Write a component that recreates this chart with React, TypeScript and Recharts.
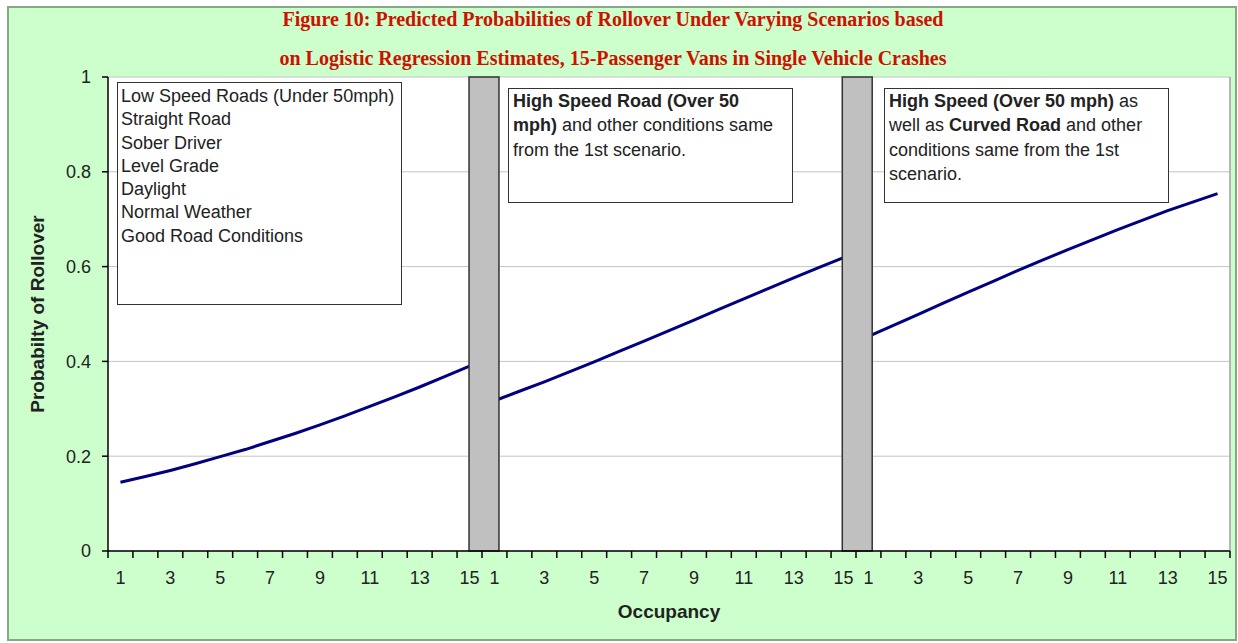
import React from 'react';
import { LineChart, Line, XAxis, YAxis, CartesianGrid, ReferenceArea, ReferenceLine } from 'recharts';

// Occupancy categories (repeated for each scenario)
const occupancy = [1, 2, 3, 4, 5, 6, 7, 8, 9, 10, 11, 12, 13, 14, 15];
const labelledOccupancy = [1, 3, 5, 7, 9, 11, 13, 15];

// Scenario 1: low speed roads, straight road, etc.
const scenarioLowSpeed = [0.145, 0.157, 0.170, 0.184, 0.199, 0.214, 0.231, 0.248, 0.266, 0.285, 0.305, 0.325, 0.346, 0.368, 0.390];
// Scenario 2: high speed road
const scenarioHighSpeed = [0.317, 0.337, 0.357, 0.378, 0.399, 0.421, 0.443, 0.465, 0.487, 0.510, 0.532, 0.554, 0.576, 0.598, 0.619];
// Scenario 3: high speed + curved road
const scenarioHighCurved = [0.453, 0.476, 0.499, 0.523, 0.546, 0.569, 0.592, 0.614, 0.636, 0.657, 0.678, 0.698, 0.718, 0.736, 0.754];

const yTicks = [0, 0.2, 0.4, 0.6, 0.8, 1];

const scenarios = [scenarioLowSpeed, scenarioHighSpeed, scenarioHighCurved];
const seriesKeys = ['s1', 's2', 's3'];

const data = scenarios.flatMap((vals, g) =>
  occupancy.map((occ, i) => {
    const row: any = { pos: g * 15 + i + 0.5, occ };
    seriesKeys.forEach((k, j) => {
      row[k] = j === g ? vals[i] : null;
    });
    return row;
  })
);

const boundaryTicks = Array.from({ length: 46 }, (_, i) => i);
const labelTicks = scenarios.flatMap((_, g) => labelledOccupancy.map((o) => g * 15 + (o - 1) + 0.5));
const xTicks = [...boundaryTicks, ...labelTicks].sort((a, b) => a - b);

// gray separators between scenarios (in category units)
const separators = [
  [14.48, 15.68],
  [29.45, 30.65],
];

const FONT = '"Liberation Sans", Arial, sans-serif';

const XTick = (props: any) => {
  const { x, y, payload } = props;
  const v = payload.value;
  if (Number.isInteger(v)) {
    return <line x1={x} x2={x} y1={y} y2={y + 7} stroke="#000" strokeWidth={1.5} />;
  }
  const occ = occupancy[Math.floor(v) % 15];
  return (
    <text x={x} y={y + 33} textAnchor="middle" fontSize={18} fill="#222" fontFamily={FONT}>
      {occ}
    </text>
  );
};

const boxStyle: React.CSSProperties = {
  position: 'absolute',
  background: '#fff',
  border: '1.5px solid #333',
  boxSizing: 'border-box',
  fontFamily: FONT,
  fontSize: 18,
  color: '#222',
  whiteSpace: 'nowrap',
};

export default function App() {
  return (
    <div style={{ position: 'absolute', left: 0, top: 0, width: 1238, height: 643, background: '#fff', overflow: 'hidden' }}>
      <div
        style={{
          position: 'absolute',
          left: 7,
          top: 6,
          width: 1230,
          height: 635,
          background: '#CCFFCC',
          border: '2px solid #86a886',
          boxSizing: 'border-box',
        }}
      />
      <div
        style={{
          position: 'absolute',
          left: 0,
          top: 0,
          width: 1238,
          height: 643,
        }}
      >
        <LineChart width={1238} height={643} data={data} margin={{ top: 77, right: 8, bottom: 52, left: 0 }}>
          <CartesianGrid vertical={false} stroke="#C4C4C4" fill="#ffffff" />
          <XAxis
            dataKey="pos"
            type="number"
            domain={[0, 45]}
            ticks={xTicks}
            interval={0}
            tick={<XTick />}
            tickLine={false}
            tickSize={0}
            tickMargin={0}
            height={40}
            axisLine={{ stroke: '#000', strokeWidth: 1.5 }}
          />
          <YAxis
            type="number"
            domain={[0, 1]}
            ticks={yTicks}
            interval={0}
            width={108}
            tickSize={6}
            tickMargin={11}
            tick={{ fontSize: 18, fill: '#222', fontFamily: FONT }}
            tickLine={{ stroke: '#000', strokeWidth: 1.5 }}
            axisLine={{ stroke: '#000', strokeWidth: 1.5 }}
          />
          <ReferenceLine x={45} stroke="#a0a0a0" strokeWidth={1.5} />
          {seriesKeys.map((k) => (
            <Line
              key={k}
              type="linear"
              dataKey={k}
              stroke="#000080"
              strokeWidth={3}
              dot={false}
              activeDot={false}
              connectNulls={false}
              isAnimationActive={false}
            />
          ))}
          {separators.map(([a, b], i) => (
            <ReferenceArea
              key={i}
              x1={a}
              x2={b}
              y1={0}
              y2={1}
              fill="#C0C0C0"
              fillOpacity={1}
              stroke="#333"
              strokeWidth={1.5}
              zIndex={450}
            />
          ))}
        </LineChart>
      </div>

      {/* Title */}
      <div
        style={{
          position: 'absolute',
          left: 0,
          width: 1226,
          top: 0,
          textAlign: 'center',
          fontFamily: '"Liberation Serif", "Times New Roman", serif',
          fontWeight: 'bold',
          fontSize: 20,
          lineHeight: '39px',
          color: '#CC1100',
        }}
      >
        Figure 10: Predicted Probabilities of Rollover Under Varying Scenarios based
        <br />
        on Logistic Regression Estimates, 15-Passenger Vans in Single Vehicle Crashes
      </div>

      {/* Axis titles */}
      <div
        style={{
          position: 'absolute',
          left: 38,
          top: 314,
          transform: 'translate(-50%, -50%) rotate(-90deg)',
          fontFamily: FONT,
          fontWeight: 'bold',
          fontSize: 19,
          color: '#222',
          whiteSpace: 'nowrap',
        }}
      >
        Probabilty of Rollover
      </div>
      <div
        style={{
          position: 'absolute',
          left: 669,
          top: 612,
          transform: 'translate(-50%, -50%)',
          fontFamily: FONT,
          fontWeight: 'bold',
          fontSize: 19,
          color: '#222',
          whiteSpace: 'nowrap',
        }}
      >
        Occupancy
      </div>

      {/* Annotation boxes */}
      <div style={{ ...boxStyle, left: 117, top: 82, width: 285, height: 223, padding: '2px 0 0 3px', lineHeight: '23.3px' }}>
        Low Speed Roads (Under 50mph)
        <br />
        Straight Road
        <br />
        Sober Driver
        <br />
        Level Grade
        <br />
        Daylight
        <br />
        Normal Weather
        <br />
        Good Road Conditions
      </div>
      <div style={{ ...boxStyle, left: 508, top: 88, width: 285, height: 115, padding: '0 0 0 4px', lineHeight: '24.4px' }}>
        <b>High Speed Road (Over 50</b>
        <br />
        <b>mph)</b> and other conditions same
        <br />
        from the 1st scenario.
      </div>
      <div style={{ ...boxStyle, left: 884, top: 88, width: 285, height: 115, padding: '0 0 0 4px', lineHeight: '24.4px' }}>
        <b>High Speed (Over 50 mph)</b> as
        <br />
        well as <b>Curved Road</b> and other
        <br />
        conditions same from the 1st
        <br />
        scenario.
      </div>
    </div>
  );
}
